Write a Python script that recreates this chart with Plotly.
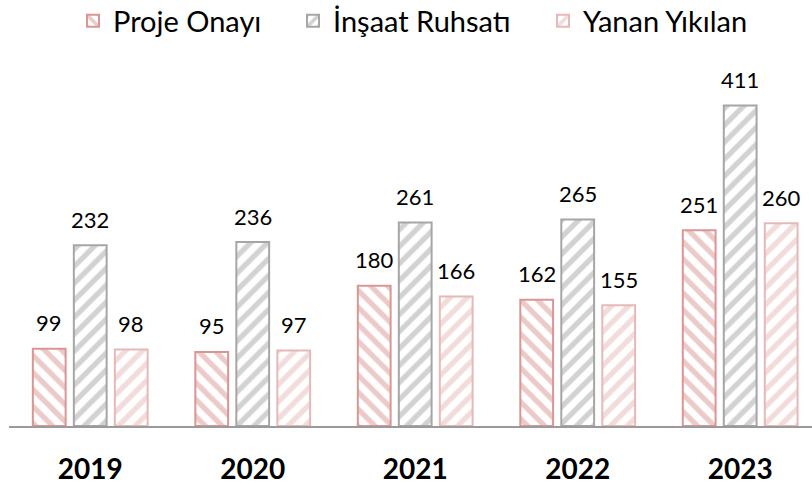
import plotly.graph_objects as go

years = ["2019", "2020", "2021", "2022", "2023"]
series_names = ["Proje Onayı", "İnşaat Ruhsatı", "Yanan Yıkılan"]
proje_onayi = [99, 95, 180, 162, 251]
insaat_ruhsati = [232, 236, 261, 265, 411]
yanan_yikilan = [98, 97, 166, 155, 260]

series_values = [proje_onayi, insaat_ruhsati, yanan_yikilan]
colors = ["#D99694", "#A6A6A6", "#E6B9B8"]
shapes = ["\\", "/", "/"]
xshifts = [-41, 0, 41]
legend_widths = [175, 205, None]

fig = go.Figure()
for name, vals, col, shp, lw in zip(series_names, series_values, colors, shapes, legend_widths):
    fig.add_trace(go.Bar(
        x=years, y=vals, name=name, legendwidth=lw,
        marker=dict(
            color="white",
            line=dict(color=col, width=2),
            pattern=dict(shape=shp, fgcolor=col, bgcolor="white", size=12, solidity=0.45, fillmode="overlay"),
        ),
    ))

annotations = []
for vals, dx in zip(series_values, xshifts):
    for i, v in enumerate(vals):
        annotations.append(dict(
            x=i, y=v, xref="x", yref="y", text=str(v), showarrow=False,
            xshift=dx, yshift=26, yanchor="middle", xanchor="center",
            font=dict(family="Lato", size=22, color="#000000"),
        ))

fig.update_layout(
    width=812, height=485,
    margin=dict(l=9, r=0, t=60, b=56),
    paper_bgcolor="white", plot_bgcolor="white",
    barmode="group", bargap=0.243, bargroupgap=0.2,
    showlegend=True,
    legend=dict(
        orientation="h", x=73 / 812, xanchor="left", y=1 - 21 / 485, yanchor="middle",
        yref="container", xref="container",
        font=dict(family="Lato", size=29, color="#000000"),
        itemwidth=30,
    ),
    annotations=annotations,
    font=dict(family="Lato"),
)
fig.update_xaxes(
    type="category", range=[-0.5, 4.442],
    showline=True, linecolor="#9A9A9A", linewidth=1.5,
    showgrid=False, ticks="", ticklabelstandoff=18,
    tickfont=dict(family="Lato", size=28, color="#000000", weight="bold"),
)
fig.update_yaxes(range=[0, 469.5], visible=False, showgrid=False)

fig.write_html(
    "out.html",
    config={"displayModeBar": False},
    post_script="document.body.style.margin='0';document.body.style.overflow='hidden';",
)
